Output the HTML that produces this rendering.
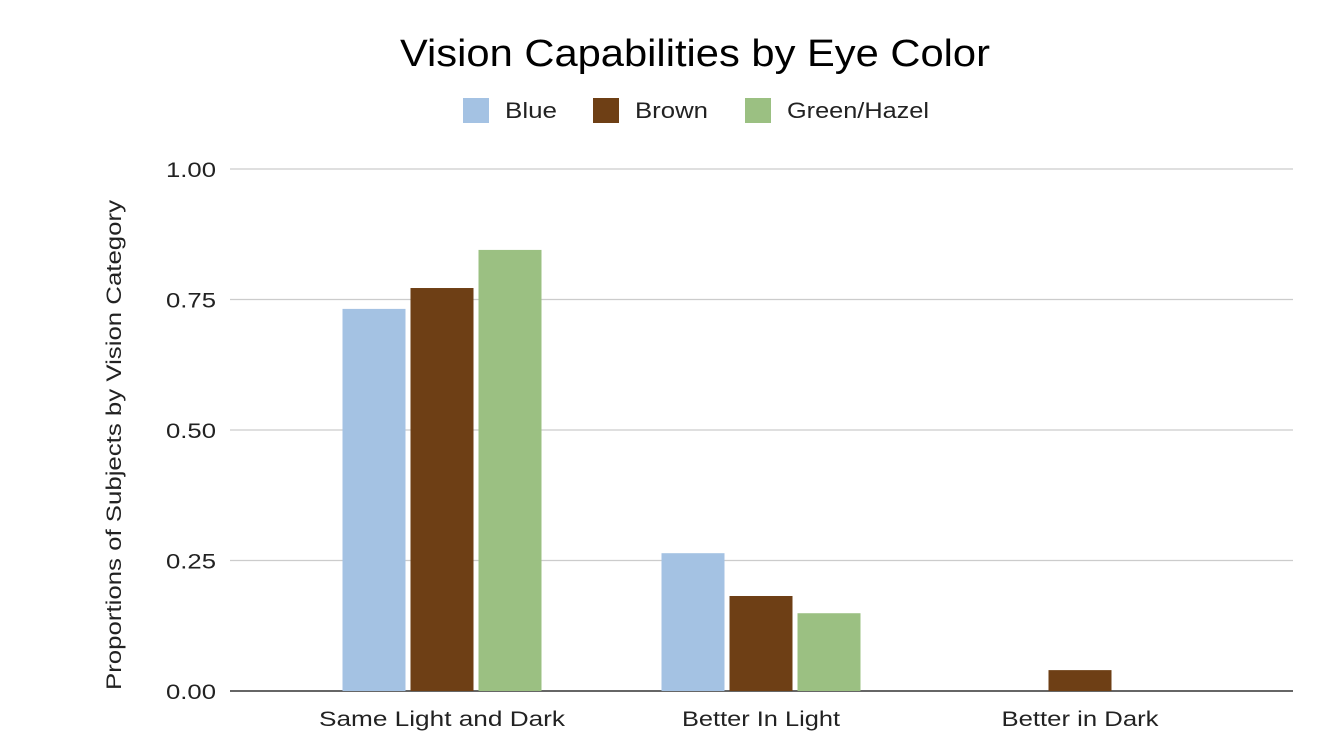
<!DOCTYPE html>
<html><head><meta charset="utf-8"><style>
html,body{margin:0;padding:0;background:#fff;}
svg{display:block;font-family:"Liberation Sans",Arial,sans-serif;}
</style></head><body>
<svg id="chart" width="1344" height="748">
<text x="695" y="66" text-anchor="middle" font-size="38" fill="#000" textLength="590" lengthAdjust="spacingAndGlyphs">Vision Capabilities by Eye Color</text>
<g>
<g><rect x="463" y="98" width="26" height="25" fill="#a4c2e3"/><text x="505" y="118" font-size="22" fill="#222" textLength="52" lengthAdjust="spacingAndGlyphs">Blue</text></g>
<g><rect x="593" y="98" width="26" height="25" fill="#6e3f15"/><text x="635" y="118" font-size="22" fill="#222" textLength="73" lengthAdjust="spacingAndGlyphs">Brown</text></g>
<g><rect x="745" y="98" width="26" height="25" fill="#9bc082"/><text x="787" y="118" font-size="22" fill="#222" textLength="142" lengthAdjust="spacingAndGlyphs">Green/Hazel</text></g>
</g>
<text transform="translate(121,445) rotate(-90)" text-anchor="middle" font-size="21" fill="#222" textLength="490" lengthAdjust="spacingAndGlyphs">Proportions of Subjects by Vision Category</text>
<g id="grid"></g><g id="bars"></g><g id="xlabels"></g>
</svg>
<script>
const categories=["Same Light and Dark","Better In Light","Better in Dark"];
const blue=[0.732,0.264,0];
const brown=[0.772,0.182,0.040];
const green=[0.845,0.149,0];
const ticks=[0,0.25,0.5,0.75,1.0];
const tickLabels=["0.00","0.25","0.50","0.75","1.00"];
const NS="http://www.w3.org/2000/svg";
const y0=691,y1=169,xl=230,xr=1293,firstC=442,step=319;
const y=v=>y0-(y0-y1)*v;
const xc=i=>firstC+i*step;
function mk(t,a,p){const e=document.createElementNS(NS,t);for(const k in a)e.setAttribute(k,a[k]);p.appendChild(e);return e;}
const grid=document.getElementById('grid');
ticks.forEach((t,i)=>{
 const l=mk('line',{x1:xl,x2:xr,y1:y(t),y2:y(t),stroke:i==0?'#333':'#ccc','stroke-width':i==0?1.5:1.2},grid);
 
 
 const tx=mk('text',{x:216,y:y(t)+8,'text-anchor':'end','font-size':21,fill:'#222',textLength:50,lengthAdjust:'spacingAndGlyphs'},grid);
 tx.textContent=tickLabels[i];
 
 
});
const series=[[blue,'#a4c2e3','blue'],[brown,'#6e3f15','brown'],[green,'#9bc082','green']];
const bars=document.getElementById('bars');
const bw=63,bs=68;
const labelW=[246,158,157];
categories.forEach((c,i)=>{
 series.forEach((s,j)=>{
  const v=s[0][i]; if(v<=0) return;
  const x=xc(i)-bw/2+(j-1)*bs;
  const r=mk('rect',{x:x,y:y(v),width:bw,height:y0-y(v),fill:s[1]},bars);
  
  
 });
 const t=mk('text',{x:xc(i),y:726,'text-anchor':'middle','font-size':21,fill:'#222',textLength:labelW[i],lengthAdjust:'spacingAndGlyphs'},document.getElementById('xlabels'));
 t.textContent=c;
 
 
});
</script>
</body></html>
